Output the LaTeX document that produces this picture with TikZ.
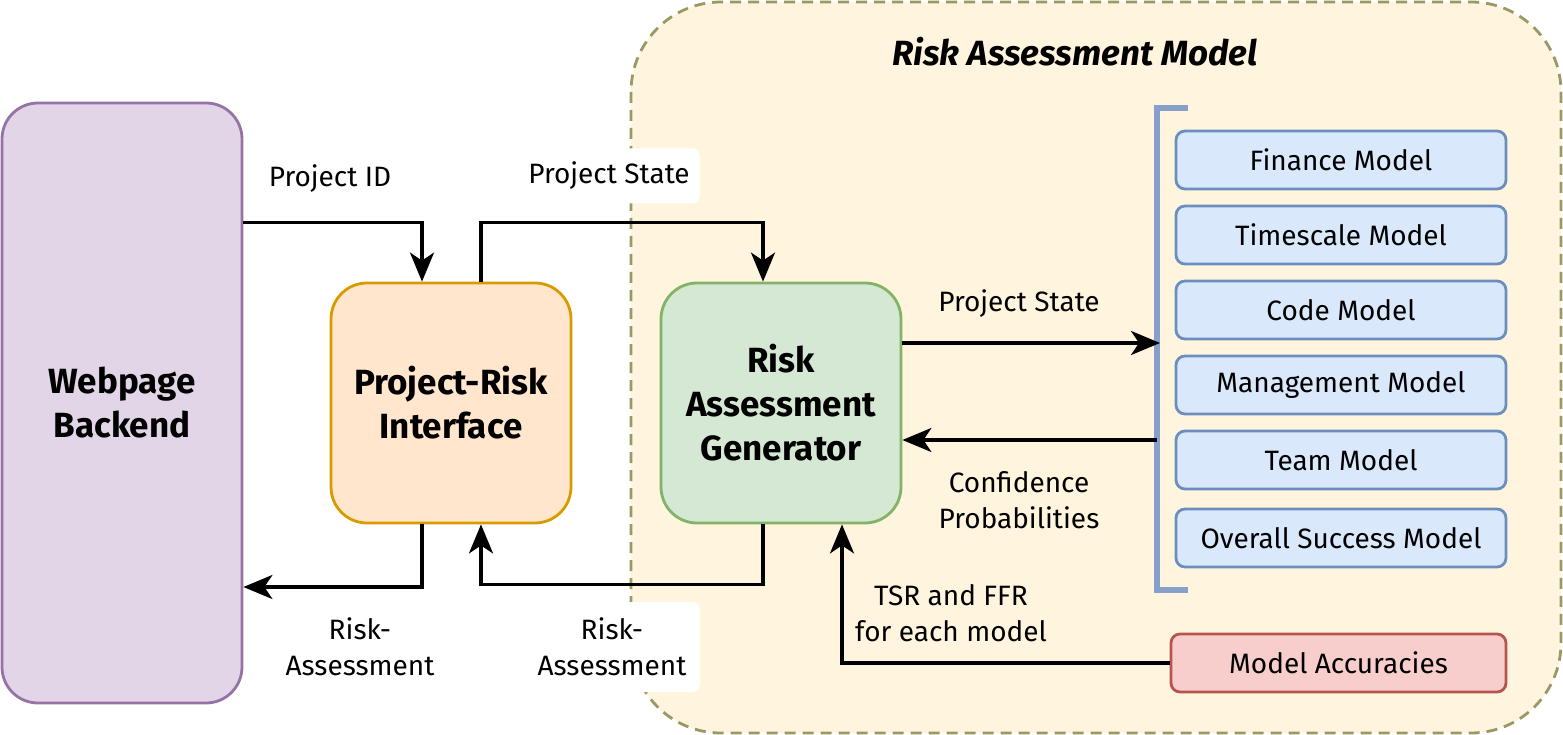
\documentclass[tikz,border=0pt]{standalone}
\usepackage{fontspec}
\setmainfont{Fira Sans}
\usetikzlibrary{arrows.meta,positioning}

\definecolor{webfill}{HTML}{E1D5E7}
\definecolor{webdraw}{HTML}{9673A6}
\definecolor{prifill}{HTML}{FFE6CC}
\definecolor{pridraw}{HTML}{D79B00}
\definecolor{genfill}{HTML}{D5E8D4}
\definecolor{gendraw}{HTML}{82B366}
\definecolor{modfill}{HTML}{DAE8FC}
\definecolor{moddraw}{HTML}{6C8EBF}
\definecolor{accfill}{HTML}{F8CECC}
\definecolor{accdraw}{HTML}{B85450}
\definecolor{ramfill}{HTML}{FFF5DE}
\definecolor{ramdraw}{HTML}{999966}
\definecolor{brkdraw}{HTML}{86A0CB}

\tikzset{
  block/.style={draw, rounded corners=36, line width=2.8, align=center,
    minimum width=240, minimum height=240, inner sep=0pt,
    font=\fontsize{35}{44}\selectfont\bfseries},
  model/.style={draw=moddraw, fill=modfill, rounded corners=9, line width=2.8,
    minimum width=330, minimum height=58, inner sep=0pt,
    font=\fontsize{28}{34}\selectfont},
  lbl/.style={align=center, inner sep=0pt, font=\fontsize{28}{36}\selectfont},
  flow/.style={line width=3.2, -{Stealth[length=29pt, width=24pt, inset=8pt]}},
}

\begin{document}
\begin{tikzpicture}[x=1pt, y=-1pt]
    \useasboundingbox (0,0) rectangle (1563,735);

    % risk assessment model container
    \draw[draw=ramdraw, fill=ramfill, line width=2.8, dash pattern=on 11pt off 7pt,
      rounded corners=90] (631,2) rectangle (1561,733);
    \node[font=\fontsize{35}{40}\selectfont\bfseries\itshape] (title) at (1075,52) {Risk Assessment Model};

    \node[block, draw=webdraw, fill=webfill, minimum height=600] (web) at (122,403) {Webpage\\Backend};
    \node[block, draw=pridraw, fill=prifill] (pri) at (451,403) {Project-Risk\\Interface};
    \node[block, draw=gendraw, fill=genfill] (gen) at (781,403) {Risk\\Assessment\\Generator};

    % sub-models
    \foreach \y/\name/\txt in {160/fin/Finance Model, 235/time/Timescale Model,
      310/code/Code Model, 385/mgmt/Management Model, 460/team/Team Model,
      538/overall/Overall Success Model}
      \node[model] (\name) at (1341,\y) {\txt};
    \node[model, draw=accdraw, fill=accfill, minimum width=335] (acc) at (1338.5,663) {Model Accuracies};

    % bracket
    \coordinate (brtop) at (1157,108);
    \coordinate (brbot) at (1157,590);
    \coordinate (brin) at (1160,343);
    \coordinate (brout) at (1157,440);
    \draw[draw=brkdraw, line width=5.5] ([xshift=31]brtop) -- (brtop) -- (brbot) -- ([xshift=31]brbot);

    % connectors
    \draw[flow] ([yshift=-121]web.north east) -| ([xshift=-29]pri.north);
    \draw[flow] ([xshift=30]pri.north) -- ++(0,-59) -| ([xshift=-18]gen.north);
    \draw[flow] ([yshift=60]gen.east) -- (brin);
    \draw[flow] (brout) -- (gen.east |- brout);
    \draw[flow] (acc.west) -| ([xshift=61]gen.south);
    \draw[flow] ([xshift=-18]gen.south) -- ++(0,60) -| ([xshift=30]pri.south);
    \draw[flow] ([xshift=-29]pri.south) |- ([yshift=-184]web.east);

    % labels
    \node[lbl] (lid) at (330,179) {Project ID};
    \node[lbl, fill=white, rounded corners=8, minimum width=182, minimum height=55] (lstate) at (609,176) {Project State};
    \node[lbl] (lstate2) at (1019,304) {Project State};
    \node[lbl] (lconf) at (1019,500) {Confidence\\Probabilities};
    \node[lbl] (ltsr) at (951,613) {TSR and FFR\\for each model};
    \node[lbl] (lrisk) at (360,647) {Risk-\\Assessment};
    \node[lbl, fill=white, rounded corners=8, minimum width=176, minimum height=90] (lrisk2) at (612,647) {Risk-\\Assessment};
\end{tikzpicture}
\end{document}
